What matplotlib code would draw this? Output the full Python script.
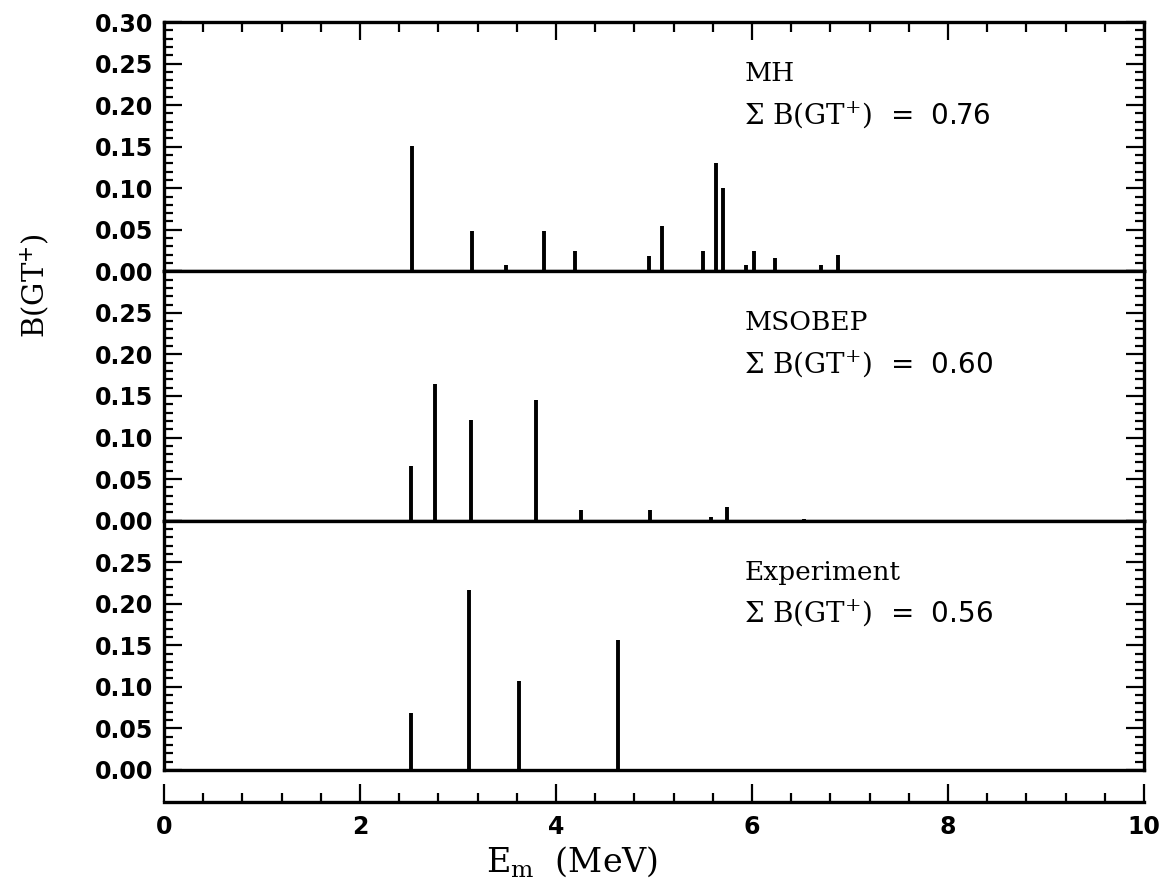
import matplotlib
matplotlib.use("Agg")
import matplotlib.pyplot as plt
from matplotlib.ticker import MultipleLocator

# B(GT+) strength distributions
mh_e = [2.53, 3.14, 3.49, 3.88, 4.19, 4.95, 5.08, 5.50, 5.63, 5.70,
        5.94, 6.02, 6.23, 6.70, 6.88, 7.13, 7.65, 8.53]
mh_b = [0.151, 0.048, 0.008, 0.049, 0.025, 0.018, 0.054, 0.025, 0.130, 0.100,
        0.007, 0.024, 0.016, 0.007, 0.020, 0.002, 0.002, 0.001]

msobep_e = [2.52, 2.77, 3.13, 3.80, 4.26, 4.96, 5.58, 5.74, 6.53]
msobep_b = [0.066, 0.164, 0.121, 0.145, 0.013, 0.013, 0.004, 0.016, 0.002]

exp_e = [2.52, 3.11, 3.62, 4.63]
exp_b = [0.069, 0.217, 0.107, 0.156]

panel_names = ["MH", "MSOBEP", "Experiment"]
panel_sums = ["0.76", "0.60", "0.56"]
y_ticks = [0.0, 0.05, 0.10, 0.15, 0.20, 0.25, 0.30]
x_ticks = [0, 2, 4, 6, 8, 10]

plt.rcParams['mathtext.fontset'] = 'dejavuserif'
serif = 'DejaVu Serif'

W, H = 1166, 892
fig = plt.figure(figsize=(W / 100, H / 100), dpi=100)

left = 164 / W
width = (1144 - 164) / W
top_px = 22
panel_px = 249.3

data = [(mh_e, mh_b), (msobep_e, msobep_b), (exp_e, exp_b)]
axes = []
for i, (e, b) in enumerate(data):
    y0 = top_px + i * panel_px
    ax = fig.add_axes([left, 1 - (y0 + panel_px) / H, width, panel_px / H])
    ax.vlines(e, 0, b, color='black', lw=2.8)
    ax.set_xlim(0, 10)
    ax.set_ylim(0, 0.30)
    for s in ax.spines.values():
        s.set_linewidth(2.4)
    ax.set_yticks(y_ticks)
    labels = ["%.2f" % v for v in y_ticks]
    if i > 0:
        labels[-1] = ""
    ax.set_yticklabels(labels, fontsize=17, fontweight='bold')
    ax.yaxis.set_minor_locator(MultipleLocator(0.01))
    ax.tick_params(axis='y', which='both', direction='in', left=True, right=True, width=1.6)
    ax.tick_params(axis='y', which='major', length=13, pad=8)
    ax.tick_params(axis='y', which='minor', length=6.5)
    if i == 0:
        ax.set_xticks(x_ticks)
        ax.xaxis.set_minor_locator(MultipleLocator(0.4))
        ax.tick_params(axis='x', which='both', direction='in', top=True, bottom=False,
                       labeltop=False, labelbottom=False, width=1.6)
        ax.tick_params(axis='x', which='major', length=13)
        ax.tick_params(axis='x', which='minor', length=7)
    else:
        ax.tick_params(axis='x', which='both', top=False, bottom=False,
                       labelbottom=False)
    ax.text(5.92, 0.229, panel_names[i], fontsize=19, family=serif, va='baseline')
    ax.text(5.92, 0.178, r'$\Sigma$ B(GT$^{+}$)  =  $\mathsf{' + panel_sums[i] + '}$',
            fontsize=20, family=serif, va='baseline')
    axes.append(ax)

# separate energy axis below the panels
axx = fig.add_axes([left, 1 - 802 / H, width, 20 / H])
axx.patch.set_visible(False)
for side in ['left', 'right', 'top']:
    axx.spines[side].set_visible(False)
axx.spines['bottom'].set_linewidth(2.4)
axx.set_xlim(0, 10)
axx.set_yticks([])
axx.set_xticks(x_ticks)
axx.set_xticklabels([str(v) for v in x_ticks], fontsize=17, fontweight='bold')
axx.xaxis.set_minor_locator(MultipleLocator(0.4))
axx.tick_params(axis='x', which='both', direction='in', width=1.6)
axx.tick_params(axis='x', which='major', length=13, pad=9)
axx.tick_params(axis='x', which='minor', length=6.5)

fig.text(572 / W, 1 - 862 / H, r'E$_{\rm m}$  (MeV)', fontsize=24, family=serif,
         ha='center', va='center')
fig.text(35 / W, 1 - 286 / H, r'B(GT$^{+}$)', fontsize=21, family=serif,
         rotation=90, ha='center', va='center')

fig.savefig("out.png", dpi=100)
